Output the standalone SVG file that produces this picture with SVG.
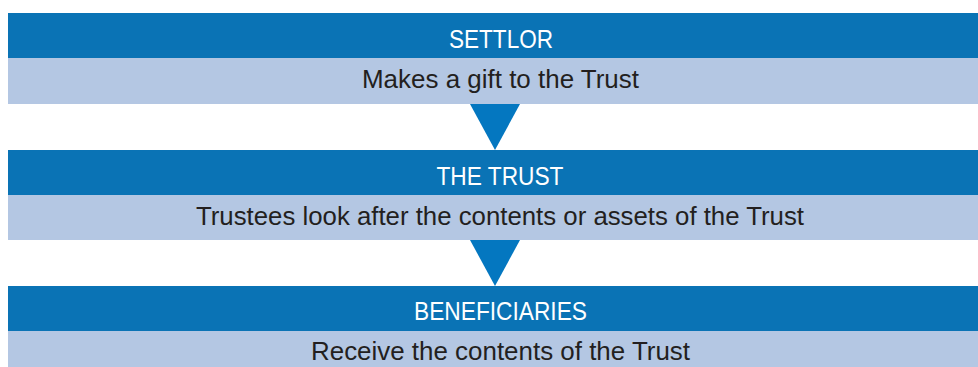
<svg xmlns="http://www.w3.org/2000/svg" width="978" height="367" viewBox="0 0 978 367">
<style>
.hd{fill:#0a73b5}
.bd{fill:#b4c7e3}
.ht{font-family:"Liberation Sans",Arial,sans-serif;font-size:26px;fill:#ffffff;text-anchor:middle}
.bt{font-family:"Liberation Sans",Arial,sans-serif;font-size:25px;fill:#231f20;text-anchor:middle}
.arr{fill:#0477c0}
</style>
<rect width="978" height="367" fill="#ffffff"/>
<g id="settlor">
<rect class="hd" x="8" y="13" width="970" height="45"/>
<rect class="bd" x="8" y="58" width="970" height="46"/>
<text class="ht" x="501" y="48" textLength="104" lengthAdjust="spacingAndGlyphs">SETTLOR</text>
<text class="bt" x="500.5" y="88" textLength="277" lengthAdjust="spacingAndGlyphs">Makes a gift to the Trust</text>
</g>
<g id="trust">
<rect class="hd" x="8" y="150" width="970" height="45"/>
<rect class="bd" x="8" y="195" width="970" height="45"/>
<text class="ht" x="500" y="185" textLength="127" lengthAdjust="spacingAndGlyphs">THE TRUST</text>
<text class="bt" x="500" y="225" textLength="608" lengthAdjust="spacingAndGlyphs">Trustees look after the contents or assets of the Trust</text>
</g>
<g id="beneficiaries">
<rect class="hd" x="8" y="286" width="970" height="45"/>
<rect class="bd" x="8" y="331" width="970" height="36"/>
<text class="ht" x="500.5" y="320" textLength="173" lengthAdjust="spacingAndGlyphs">BENEFICIARIES</text>
<text class="bt" x="500.5" y="360" textLength="379" lengthAdjust="spacingAndGlyphs">Receive the contents of the Trust</text>
</g>
<g id="connectors">
<polygon class="arr" points="470,104 520,104 495,150"/>
<polygon class="arr" points="470,240 520,240 495,286"/>
</g>
</svg>
